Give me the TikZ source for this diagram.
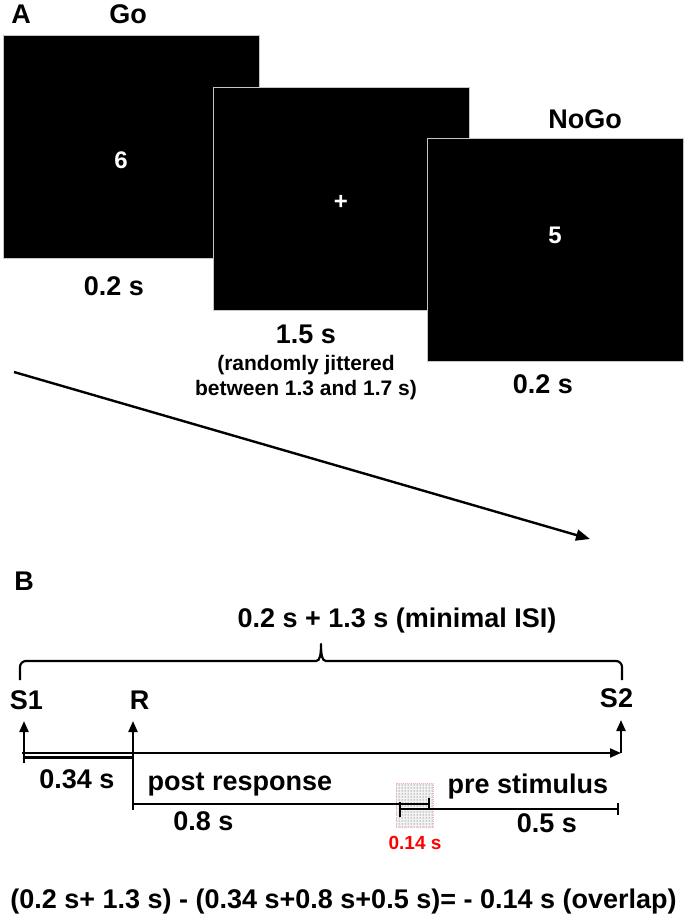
\documentclass[tikz,border=0pt]{standalone}
\usepackage{fontspec}
\setmainfont{Liberation Sans}
\usetikzlibrary{arrows.meta,patterns}
\begin{document}
\begin{tikzpicture}[x=1pt,y=-1pt,
  lbl/.style={font=\fontsize{27}{30}\selectfont\bfseries, anchor=base, inner sep=0pt},
  small/.style={font=\fontsize{21}{24}\selectfont\bfseries, anchor=base, inner sep=0pt},
  stim/.style={font=\fontsize{24}{26}\selectfont\bfseries, text=white, anchor=base, inner sep=0pt},
  screen/.style={draw=gray!45, line width=0.6pt, fill=black, minimum width=256pt, minimum height=223pt, inner sep=0pt, outer sep=0pt},
  tl/.style={line width=2.2pt},
  tip/.style={-{Triangle[length=11pt,width=9pt]}}
]
\useasboundingbox (0,0) rectangle (685,914);

% ---------- Panel A ----------
\node[lbl] (A) at (21,23) {A};
\node[lbl] (go) at (128,23) {Go};
\node[screen] (scr1) at (131,146.5) {};
\node[screen] (scr2) at (341.5,198.5) {};
\node[screen] (scr3) at (555,250) {};
\node[stim] (six) at (121,168) {6};
\node[font=\fontsize{24}{26}\selectfont\bfseries, text=white, inner sep=0pt] (plus) at (341,202) {+};
\node[lbl] (nogo) at (585,128) {NoGo};
\node[stim] (five) at (555,243) {5};
\node[lbl] (t1) at (114,295) {0.2 s};
\node[lbl] (t2) at (306,343) {1.5 s};
\node[small] (j1) at (306,370) {(randomly jittered};
\node[small] (j2) at (306,395) {between 1.3 and 1.7 s)};
\node[lbl] (t3) at (543,393) {0.2 s};
\coordinate (a0) at (14,372);
\coordinate (a1) at (590,539);
\draw[line width=2.4pt, -{Triangle[length=14pt,width=11pt]}] (a0) -- (a1);

% ---------- Panel B ----------
\node[lbl] (B) at (24,590) {B};
\node[lbl] (isi) at (397,627) {0.2 s + 1.3 s (minimal ISI)};
\draw[tl, line join=round] (20,680) -- (20,667) arc[start angle=180, end angle=270, radius=6]
  -- (316,661) .. controls (320,661) and (321,655) .. (321,644)
  .. controls (321,655) and (322,661) .. (326,661)
  -- (616,661) arc[start angle=270, end angle=360, radius=6] -- (622,680);

\node[lbl] (S1) at (26.5,709) {S1};
\node[lbl] (R) at (139.5,709) {R};
\node[lbl] (S2) at (616.5,707) {S2};

% overlap shading
\fill[gray!10] (396,783) rectangle (433,827);
\fill[pattern=dots, pattern color=black!75] (396,783) rectangle (433,827);
\draw[red!30, densely dotted, line width=1pt] (396,783) rectangle (433,827);

\coordinate (s1b) at (24,753);
\coordinate (s1t) at (24,721);
\coordinate (rb) at (133,810);
\coordinate (rt) at (133,721);
\coordinate (s2b) at (621,753);
\coordinate (s2t) at (621,720);
\coordinate (m0) at (22,753);
\coordinate (m1) at (621,753);

\draw[tl, tip] (m0) -- (m1);
\draw[tl, tip] (s1b) -- (s1t);
\draw[tl, tip] (rb) -- (rt);
\draw[tl, tip] (s2b) -- (s2t);

% 0.34 s bracket
\coordinate (p0) at (24,757.5);
\coordinate (p1) at (133,757.5);
\draw[tl] (p0) -- (p1);
\draw[tl] (24,750) -- (24,763);
\draw[tl] (133,750) -- (133,763);

% 0.8 s bracket
\coordinate (q0) at (133,804);
\coordinate (q1) at (429,804);
\draw[tl] (q0) -- (q1);
\draw[tl] (429,798) -- (429,810);

% 0.5 s bracket
\coordinate (r0) at (400,809);
\coordinate (r1) at (618,809);
\draw[tl] (r0) -- (r1);
\draw[tl] (400,802) -- (400,817);
\draw[tl] (618,803) -- (618,815);

\node[lbl] (d034) at (77,788) {0.34 s};
\node[lbl] (post) at (240,790) {post response};
\node[lbl] (pre) at (528,793) {pre stimulus};
\node[lbl] (d08) at (203.5,830) {0.8 s};
\node[lbl] (d05) at (547,832) {0.5 s};
\node[font=\fontsize{19}{22}\selectfont\bfseries, text=red, anchor=base, inner sep=0pt] (d014) at (415,849) {0.14 s};
\node[lbl] (eq) at (343.5,908) {(0.2 s+ 1.3 s) - (0.34 s+0.8 s+0.5 s)= - 0.14 s (overlap)};
\end{tikzpicture}
\end{document}
